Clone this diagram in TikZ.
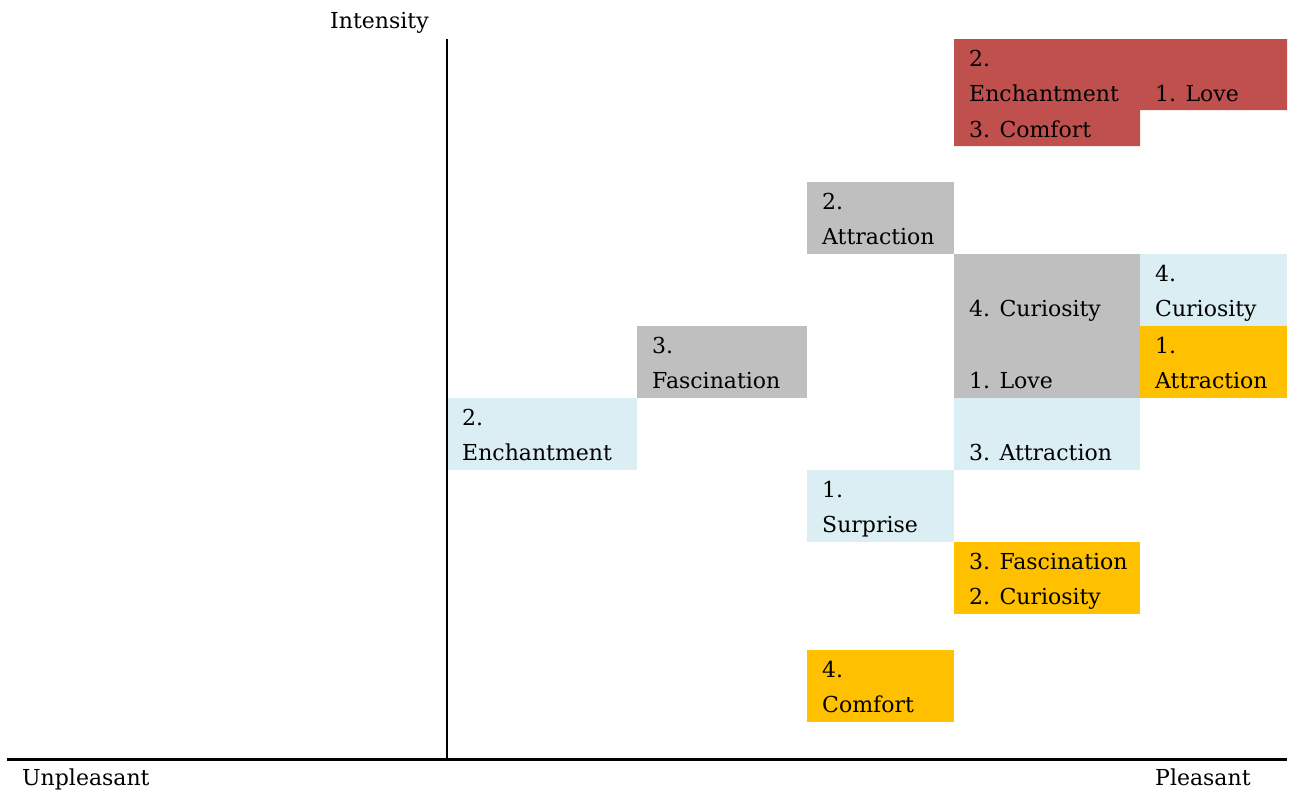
\documentclass[tikz,border=0pt]{standalone}
\usepackage{fontspec}
\setmainfont{DejaVu Serif}
\definecolor{cred}{HTML}{C0504D}
\definecolor{cgray}{HTML}{BFBFBF}
\definecolor{cblue}{HTML}{DAEEF3}
\definecolor{corange}{HTML}{FFC000}
\begin{document}
\begin{tikzpicture}[x=1pt,y=-1pt,
  lbl/.style={anchor=base west,inner sep=0pt,font=\fontsize{22}{36}\selectfont},
  redbox/.style={fill=cred},
  graybox/.style={fill=cgray},
  bluebox/.style={fill=cblue},
  orangebox/.style={fill=corange}]
\useasboundingbox[fill=white] (0,0) rectangle (1294,795);
% boxes
\fill[redbox] (954,39) -- (1287,39) -- (1287,110) -- (1140,110) -- (1140,146) -- (954,146) -- cycle;
\fill[graybox] (807,182) rectangle (954,254);
\fill[graybox] (954,254) rectangle (1140,398);
\fill[bluebox] (1140,254) rectangle (1287,326);
\fill[orangebox] (1140,326) rectangle (1287,398);
\fill[graybox] (637,326) rectangle (807,398);
\fill[bluebox] (447,398) rectangle (637,470);
\fill[bluebox] (954,398) rectangle (1140,470);
\fill[bluebox] (807,470) rectangle (954,542);
\fill[orangebox] (954,542) rectangle (1140,614);
\fill[orangebox] (807,650) rectangle (954,722);
% axes
\coordinate (ytop) at (447,39);
\coordinate (ybot) at (447,758);
\coordinate (xl) at (7,759);
\coordinate (xr) at (1287,759);
\draw[line width=2pt] (ytop) -- (ybot);
\draw[line width=3pt] (xl) -- (xr);
% labels
\node[lbl] (int) at (330,28) {Intensity};
\node[lbl] (unp) at (22,785) {Unpleasant};
\node[lbl] (ple) at (1155,785) {Pleasant};
% red
\node[lbl] (r1) at (969,66) {2.};
\node[lbl] (r2) at (969,101) {Enchantment};
\node[lbl] (r3) at (969,137) {3. Comfort};
\node[lbl] (r4) at (1155,101) {1. Love};
% gray
\node[lbl] (g1) at (822,209) {2.};
\node[lbl] (g2) at (822,244) {Attraction};
\node[lbl] (g3) at (969,316) {4. Curiosity};
\node[lbl] (g4) at (969,388) {1. Love};
\node[lbl] (g5) at (652,353) {3.};
\node[lbl] (g6) at (652,388) {Fascination};
% blue
\node[lbl] (b1) at (1155,281) {4.};
\node[lbl] (b2) at (1155,316) {Curiosity};
\node[lbl] (b3) at (462,425) {2.};
\node[lbl] (b4) at (462,460) {Enchantment};
\node[lbl] (b5) at (969,460) {3. Attraction};
\node[lbl] (b6) at (822,497) {1.};
\node[lbl] (b7) at (822,532) {Surprise};
% orange
\node[lbl] (o1) at (1155,353) {1.};
\node[lbl] (o2) at (1155,388) {Attraction};
\node[lbl] (o3) at (969,569) {3. Fascination};
\node[lbl] (o4) at (969,604) {2. Curiosity};
\node[lbl] (o5) at (822,677) {4.};
\node[lbl] (o6) at (822,712) {Comfort};
\end{tikzpicture}
\end{document}
